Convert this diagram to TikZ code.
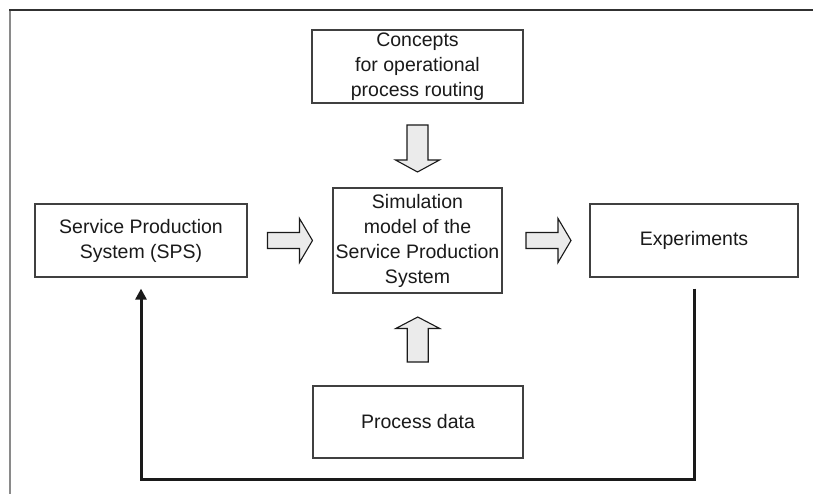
\documentclass[tikz,border=0pt]{standalone}
\usepackage{fontspec}
\setmainfont{Liberation Sans}
\usetikzlibrary{arrows.meta,calc}

\definecolor{boxline}{HTML}{404040}
\definecolor{blockfill}{HTML}{EBEBEB}
\definecolor{framegray}{HTML}{8A8A8A}
\definecolor{inkdark}{HTML}{1A1A1A}

\tikzset{
  box/.style={draw=boxline, line width=1.2pt, fill=white, align=center,
    inner sep=0pt, text=inkdark,
    font=\fontsize{19.5}{25}\selectfont},
  blockarrow/.style={draw=inkdark, line width=1.1pt, fill=blockfill, line join=miter},
  feedback/.style={draw=inkdark, line width=3pt,
    -{Triangle[width=11pt,length=11pt]}},
}

\begin{document}
\begin{tikzpicture}[x=1pt,y=-1pt]
  \useasboundingbox (0,0) rectangle (813,494);

  % outer frame (left and top edges only)
  \draw[framegray, line width=2pt] (10,494) -- (10,10);
  \draw[inkdark!90, line width=1.5pt] (9,10) -- (813,10);

  % boxes
  \node[box, minimum width=211pt, minimum height=73pt] (concepts) at (417.5,66.5)
    {Concepts\\for operational\\process routing};
  \node[box, minimum width=212pt, minimum height=73pt] (sps) at (141,240.5)
    {Service Production\\System (SPS)};
  \node[box, minimum width=169pt, minimum height=105pt] (sim) at (417.5,240.5)
    {Simulation\\model of the\\Service Production\\System};
  \node[box, minimum width=208pt, minimum height=73pt] (exp) at (694,240.5)
    {Experiments};
  \node[box, minimum width=210pt, minimum height=72pt] (data) at (418,422)
    {Process data};

  % block arrows between the boxes
  \begin{scope}[shift={($(sps.east)!0.5!(sim.west)$)}]
    \draw[blockarrow] (-22.5,-8) -- (9.5,-8) -- (9.5,-22) -- (22.5,0)
      -- (9.5,22) -- (9.5,8) -- (-22.5,8) -- cycle;
  \end{scope}
  \begin{scope}[shift={($(sim.east)!0.5!(exp.west)$)}, xshift=2.5pt]
    \draw[blockarrow] (-22.5,-8) -- (9.5,-8) -- (9.5,-22) -- (22.5,0)
      -- (9.5,22) -- (9.5,8) -- (-22.5,8) -- cycle;
  \end{scope}
  \begin{scope}[shift={($(concepts.south)!0.5!(sim.north)$)}, yshift=-3pt]
    \draw[blockarrow] (-10.5,-23.5) -- (10.5,-23.5) -- (10.5,11.5) -- (22,11.5)
      -- (0,23.5) -- (-22,11.5) -- (-10.5,11.5) -- cycle;
  \end{scope}
  \begin{scope}[shift={($(data.north)!0.5!(sim.south)$)}]
    \draw[blockarrow] (-10.5,22.5) -- (10.5,22.5) -- (10.5,-11) -- (22,-11)
      -- (0,-22.5) -- (-22,-11) -- (-10.5,-11) -- cycle;
  \end{scope}

  % feedback loop from the experiments back to the real system
  \coordinate (fbstart) at ([yshift=-11pt]exp.south);
  \coordinate (fbend) at ([yshift=-11pt]sps.south);
  \draw[feedback] (fbstart) -- ++(0,191) -| (fbend);
\end{tikzpicture}
\end{document}
